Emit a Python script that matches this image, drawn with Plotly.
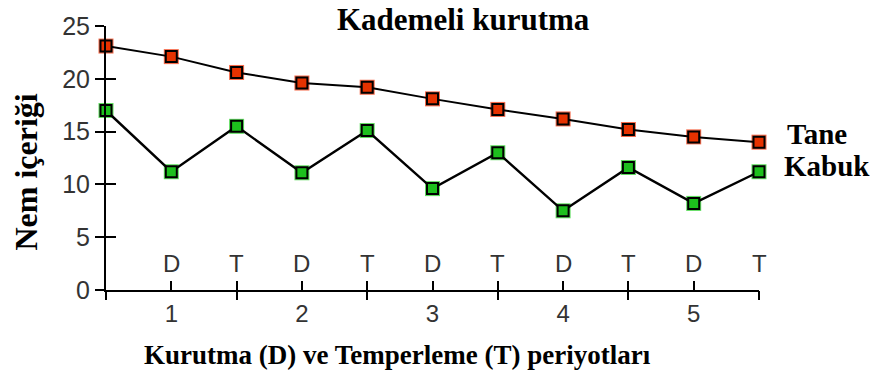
import plotly.graph_objects as go

# ---- data ----
period_index = [0, 1, 2, 3, 4, 5, 6, 7, 8, 9, 10]
tane = [23.1, 22.1, 20.6, 19.6, 19.2, 18.1, 17.1, 16.2, 15.2, 14.5, 14.0]
kabuk = [17.0, 11.2, 15.5, 11.1, 15.1, 9.6, 13.0, 7.5, 11.6, 8.2, 11.2]

phase_vals = [1, 2, 3, 4, 5, 6, 7, 8, 9, 10]
phase_text = ["D", "T", "D", "T", "D", "T", "D", "T", "D", "T"]
period_vals = [1, 3, 5, 7, 9]
period_text = ["1", "2", "3", "4", "5"]
boundary_vals = [0, 2, 4, 6, 8, 10]
y_ticks = [0, 5, 10, 15, 20, 25]

title_text = "Kademeli kurutma"
x_title = "Kurutma (D) ve Temperleme (T) periyotları"
y_title = "Nem içeriği"

RED = "#e63200"
RED_HALO = "#f56a4a"
GREEN = "#1dbf1d"
GREEN_HALO = "#5fdc5f"
SERIF = "Liberation Serif"
SANS = "Liberation Sans"
TICKCOL = "#333333"

fig = go.Figure()

for vals, halo in ((tane, RED_HALO), (kabuk, GREEN_HALO)):
    fig.add_trace(go.Scatter(x=period_index, y=vals, mode="markers",
                             marker=dict(symbol="square", size=15, color=halo, line=dict(width=0)),
                             hoverinfo="skip", showlegend=False, cliponaxis=False))

fig.add_trace(go.Scatter(x=period_index, y=tane, mode="lines+markers", name="Tane",
                         line=dict(color="black", width=2),
                         marker=dict(symbol="square", size=11, color=RED, line=dict(color="black", width=2)),
                         showlegend=False, cliponaxis=False))
fig.add_trace(go.Scatter(x=period_index, y=kabuk, mode="lines+markers", name="Kabuk",
                         line=dict(color="black", width=2.4),
                         marker=dict(symbol="square", size=11, color=GREEN, line=dict(color="black", width=2)),
                         showlegend=False, cliponaxis=False))

xr = [0, 10]
yr = [0, 25]

fig.update_layout(
    width=877, height=377,
    margin=dict(l=106, r=118, t=23, b=87),
    paper_bgcolor="white", plot_bgcolor="white",
    xaxis=dict(range=xr, tickmode="array", tickvals=period_vals, ticktext=period_text,
               ticks="", showgrid=False, zeroline=False, showline=True, linecolor="black", linewidth=2,
               tickfont=dict(family=SANS, size=24, color=TICKCOL), ticklabelstandoff=1),
    xaxis2=dict(range=xr, overlaying="x", side="bottom", tickmode="array", tickvals=boundary_vals,
                showticklabels=False, ticks="outside", ticklen=9, tickwidth=2, tickcolor="black",
                showgrid=False, zeroline=False, showline=False),
    xaxis3=dict(range=xr, overlaying="x", side="bottom", tickmode="array",
                tickvals=[0] + phase_vals, showticklabels=False,
                ticks="inside", ticklen=9, tickwidth=2, tickcolor="black",
                showgrid=False, zeroline=False, showline=False),
    yaxis=dict(range=yr, tickmode="array", tickvals=y_ticks, ticks="outside", ticklen=9, tickwidth=2,
               tickcolor="black", showgrid=False, zeroline=False, showline=True, linecolor="black",
               linewidth=2, tickfont=dict(family=SANS, size=25, color=TICKCOL), ticklabelstandoff=0),
    yaxis2=dict(range=yr, overlaying="y", side="left", tickmode="array", tickvals=y_ticks,
                ticks="inside", ticklen=10, tickwidth=2, tickcolor="black", showticklabels=False,
                showgrid=False, zeroline=False, showline=False),
)

# invisible traces to activate the overlay axes
fig.add_trace(go.Scatter(x=[0], y=[0], xaxis="x2", yaxis="y2", mode="markers",
                         marker=dict(opacity=0), hoverinfo="skip", showlegend=False))
fig.add_trace(go.Scatter(x=[0], y=[0], xaxis="x3", yaxis="y2", mode="markers",
                         marker=dict(opacity=0), hoverinfo="skip", showlegend=False))

# D / T phase labels above the x axis
for xv, lab in zip(phase_vals, phase_text):
    fig.add_annotation(text=lab, x=xv, y=0, xanchor="center", yanchor="bottom", yshift=11,
                       showarrow=False, font=dict(family=SANS, size=24, color=TICKCOL))

fig.add_annotation(text="<b>%s</b>" % title_text, xref="paper", yref="paper", x=0.548, y=1,
                   xanchor="center", yanchor="middle", yshift=7, showarrow=False,
                   font=dict(family=SERIF, size=31, color="black"))
fig.add_annotation(text="<b>%s</b>" % x_title, xref="paper", yref="paper", x=0.447, y=0,
                   xanchor="center", yanchor="middle", yshift=-65, showarrow=False,
                   font=dict(family=SERIF, size=27, color="black"))
fig.add_annotation(text="<b>%s</b>" % y_title, xref="paper", yref="paper", x=-0.122, y=0.446,
                   xanchor="center", yanchor="middle", textangle=-90, showarrow=False,
                   font=dict(family=SERIF, size=32, color="black"))
fig.add_annotation(text="<b>Tane</b>", x=period_index[-1], y=tane[-1], xanchor="left", yanchor="middle",
                   xshift=26, yshift=8, showarrow=False, font=dict(family=SERIF, size=29, color="black"))
fig.add_annotation(text="<b>Kabuk</b>", x=period_index[-1], y=kabuk[-1], xanchor="left", yanchor="middle",
                   xshift=23, yshift=6, showarrow=False, font=dict(family=SERIF, size=29, color="black"))

fig.write_html("out.html")
